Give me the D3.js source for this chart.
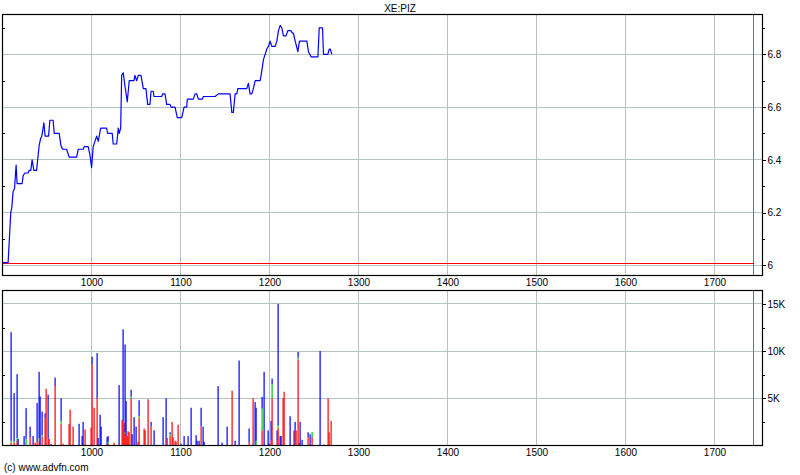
<!DOCTYPE html>
<html>
<head>
<meta charset="utf-8">
<script src="https://cdn.jsdelivr.net/npm/d3@7"></script>
<style>
  html, body { margin: 0; padding: 0; background: #fff; }
  svg { display: block; }
  text { font-family: "Liberation Sans", Arial, sans-serif; font-size: 10px; fill: #000; }
</style>
</head>
<body>
<svg id="chart" width="800" height="475"></svg>
<script>
// ---------------- data ----------------
const title = "XE:PIZ";
const copyright = "(c) www.advfn.com";
const xTicks = [1000, 1100, 1200, 1300, 1400, 1500, 1600, 1700];
const priceTicks = [6, 6.2, 6.4, 6.6, 6.8];
const priceTickLabels = ["6", "6.2", "6.4", "6.6", "6.8"];
const priceMinorTicks = [6.1, 6.3, 6.5, 6.7, 6.9];
const volTicks = [5000, 10000, 15000];
const volTickLabels = ["5K", "10K", "15K"];
const volMinorTicks = [2500, 7500, 12500];
const refPrice = 6.006;
const endMarker = 1744;

const priceX = [900, 906.3, 909.3, 910.5, 911.9, 913.5, 915.3, 916.4, 922.1, 923.2, 925.1, 928.8, 929.9, 931.8, 933.3, 935.2, 938.3,
  941.2, 942.8, 944.2, 946.5, 947.9, 951.8, 953.2, 956.9, 958.1, 963.7, 965.6, 967.5, 972, 974.9, 983.3, 985.1, 990.7,
  991.8, 996.3, 998.2, 1000.1, 1001.9, 1005.8, 1007.6, 1010.3, 1017, 1018.1, 1023.3, 1024.4, 1028.3, 1030.1, 1031.2,
  1032.8, 1033.9, 1035.7, 1037.6, 1040.2, 1042.4, 1047.7, 1048.8, 1050.8, 1052.6, 1055.6, 1058.2, 1061.2, 1063.1,
  1065.7, 1066.9, 1069.4, 1070.2, 1078.9, 1080, 1082.6, 1084.5, 1088.2, 1089.4, 1093.9, 1096.4, 1101.4, 1104, 1107,
  1107.7, 1114.4, 1116.4, 1118.3, 1120.1, 1124.6, 1125.7, 1138.9, 1142.6, 1155.7, 1157.7, 1159.4, 1161.4, 1163.3,
  1164.4, 1174.5, 1176.3, 1178.2, 1180.1, 1181.9, 1183.9, 1189.5, 1190.6, 1193.2, 1195.1, 1197, 1198.8, 1200.7,
  1202.6, 1206.4, 1208.3, 1210.1, 1212, 1213.9, 1215.7, 1218.7, 1220.6, 1224, 1225.8, 1226.9, 1228.9, 1231.9, 1233.7,
  1242, 1243.8, 1246.9, 1254.4, 1255.9, 1259.6, 1260.7, 1265.6, 1267.1, 1268.2, 1270.1];
const priceY = [6.01, 6.01, 6.20, 6.22, 6.28, 6.29, 6.38, 6.31, 6.31, 6.34, 6.35, 6.35, 6.36, 6.36, 6.40, 6.36, 6.36,
  6.455, 6.48, 6.49, 6.54, 6.49, 6.49, 6.55, 6.55, 6.50, 6.50, 6.455, 6.44, 6.44, 6.41, 6.41, 6.44, 6.44,
  6.45, 6.45, 6.42, 6.37, 6.45, 6.49, 6.47, 6.52, 6.52, 6.50, 6.50, 6.46, 6.46, 6.52, 6.50,
  6.52, 6.72, 6.73, 6.68, 6.62, 6.70, 6.70, 6.72, 6.70, 6.72, 6.72, 6.67, 6.67, 6.61,
  6.61, 6.66, 6.66, 6.64, 6.64, 6.65, 6.65, 6.61, 6.61, 6.60, 6.60, 6.56, 6.56, 6.60, 6.60,
  6.63, 6.63, 6.65, 6.65, 6.63, 6.63, 6.64, 6.64, 6.65, 6.65, 6.58, 6.58, 6.65, 6.65,
  6.67, 6.67, 6.69, 6.65, 6.65, 6.67, 6.70, 6.70, 6.72, 6.78, 6.80, 6.82, 6.83, 6.85,
  6.83, 6.83, 6.85, 6.89, 6.91, 6.90, 6.87, 6.87, 6.89, 6.89, 6.88, 6.88, 6.85, 6.81, 6.85,
  6.85, 6.81, 6.79, 6.79, 6.90, 6.90, 6.80, 6.80, 6.82, 6.82, 6.80];

const volX = [910, 913, 916.5, 917.6, 924.3, 926.6, 931.1, 934.5, 936.7, 939, 941.2, 942.3, 944.6, 948, 949.1, 951.3,
  952.5, 954.7, 959.2, 966, 968.2, 975, 976.1, 979.5, 986.2, 989.6, 990.7, 993, 999.7, 1000.8, 1003.1, 1006.5,
  1007.6, 1009.8, 1011, 1017.7, 1018.8, 1025.6, 1031.2, 1034.6, 1035.7, 1036.8, 1037.6, 1038.7, 1039.8, 1040.9,
  1042.1, 1044.3, 1045.5, 1047.7, 1049.9, 1052.2, 1053.4, 1059, 1060.1, 1063.5, 1066.9, 1070.3, 1080.4, 1083.8,
  1084.9, 1088.3, 1090.5, 1091.6, 1093.8, 1095, 1097.2, 1100.6, 1103.9, 1108.4, 1111.8, 1117.5, 1119, 1121,
  1123.4, 1125.7, 1126.8, 1142.6, 1147.1, 1152.7, 1158.3, 1161.7, 1165.5, 1177.4, 1182, 1184.2, 1185.3, 1192.1,
  1194.3, 1198.8, 1200, 1202.2, 1203.3, 1208.9, 1210.1, 1212.3, 1213.5, 1215.7, 1216.8, 1222.5, 1227, 1229.2,
  1230.3, 1232.5, 1233.7, 1234.8, 1237.1, 1243.8, 1245, 1248.3, 1257.3, 1261.8, 1265.2, 1267.4, 1268.6];
const volRed = [300, 300, 500, 0, 0, 0, 900, 0, 300, 400, 500, 0, 900, 2900, 6000, 700,
  700, 0, 6300, 2300, 200, 2300, 3800, 2000, 0, 0, 0, 1700, 1900, 8600, 4000, 5000,
  0, 0, 0, 0, 200, 300, 0, 2700, 2600, 2400, 1200, 1000, 1000, 1500,
  1400, 5000, 0, 0, 0, 400, 2900, 1800, 1600, 4900, 2000, 0, 0, 0,
  800, 1000, 2500, 900, 500, 400, 2200, 0, 0, 0, 0, 0, 0, 0,
  2000, 0, 0, 0, 0, 0, 5800, 0, 0, 300, 5000, 0, 0, 1600,
  0, 0, 0, 500, 5000, 500, 1900, 0, 0, 5000, 5700, 0, 0, 1600,
  1600, 9100, 300, 0, 0, 900, 0, 900, 0, 100, 5000, 1400, 2600];
const volGreen = [200, 100, 300, 0, 0, 700, 0, 0, 0, 0, 300, 0, 200, 0, 0, 0,
  0, 0, 0, 300, 0, 0, 0, 0, 0, 0, 0, 0, 0, 0, 0, 0,
  0, 0, 0, 0, 200, 0, 0, 0, 0, 0, 200, 0, 0, 0,
  0, 200, 0, 0, 0, 0, 200, 0, 0, 0, 0, 0, 0, 0,
  0, 200, 0, 0, 0, 0, 0, 0, 0, 0, 0, 0, 0, 0,
  0, 0, 0, 0, 0, 0, 0, 0, 0, 0, 0, 0, 500, 2300,
  0, 0, 0, 0, 1500, 0, 200, 0, 0, 0, 0, 0, 0, 0,
  0, 200, 0, 0, 0, 0, 0, 550, 0, 0, 0, 0, 0];
const volBlue = [11500, 5150, 6760, 700, 1000, 3260, 1100, 1000, 0, 4100, 7000, 5200, 2500, 500, 0, 4700,
  0, 150, 900, 2400, 0, 0, 0, 0, 2300, 1000, 2500, 0, 0, 800, 0, 4800,
  800, 3250, 2000, 900, 600, 0, 6400, 0, 9700, 0, 9300, 3700, 0, 0,
  0, 700, 1200, 3000, 2000, 0, 1700, 0, 0, 0, 500, 1600, 3000, 5000,
  0, 200, 0, 0, 0, 0, 0, 200, 1000, 1000, 4000, 1100, 500, 500,
  2000, 2000, 400, 6300, 300, 2000, 0, 500, 9000, 1500, 0, 4600, 3500, 1250,
  7800, 1600, 200, 2100, 600, 1100, 12900, 1000, 1000, 0, 0, 3100, 1600, 900,
  0, 600, 0, 2500, 600, 500, 1200, 0, 10000, 0, 0, 0, 0];

// ---------------- layout ----------------
const svg = d3.select("#chart");
const L = 2.5, R = 762.5;
const pTop = 14.5, pBot = 275.5;
const vTop = 290.5, vBot = 445.5;

const x = d3.scaleLinear().domain([900, 1754]).range([L, R]);
const yP = d3.scaleLinear().domain([5.9613, 6.951]).range([pBot, pTop]);
const yV = d3.scaleLinear().domain([0, 16420]).range([vBot, vTop]);

const gridColor = "#b4c2c2";
const crisp = v => Math.round(v - 0.5) + 0.5;

function panelGrid(y, top, bot, yTicks) {
  const g = svg.append("g");
  g.selectAll("line.vg").data(xTicks).join("line")
    .attr("x1", d => crisp(x(d))).attr("x2", d => crisp(x(d)))
    .attr("y1", top).attr("y2", bot)
    .attr("stroke", gridColor).attr("stroke-width", 1);
  g.selectAll("line.hg").data(yTicks).join("line")
    .attr("x1", L).attr("x2", R)
    .attr("y1", d => crisp(y(d))).attr("y2", d => crisp(y(d)))
    .attr("stroke", gridColor).attr("stroke-width", 1);
  // end-of-session marker
  g.append("line")
    .attr("x1", crisp(x(endMarker))).attr("x2", crisp(x(endMarker)))
    .attr("y1", top).attr("y2", bot)
    .attr("stroke", "#6a7676").attr("stroke-width", 1);
}

panelGrid(yP, pTop, pBot, priceTicks);
panelGrid(yV, vTop, vBot, volTicks);

// reference line
svg.append("line")
  .attr("x1", L).attr("x2", crisp(x(endMarker)))
  .attr("y1", crisp(yP(refPrice))).attr("y2", crisp(yP(refPrice)))
  .attr("stroke", "#ff0000").attr("stroke-width", 1)
  .attr("shape-rendering", "crispEdges");

// price line
const pts = priceX.map((d, i) => [d, priceY[i]]);
svg.append("path")
  .datum(pts)
  .attr("fill", "none")
  .attr("stroke", "#0000ff")
  .attr("stroke-width", 1.2)
  .attr("stroke-linejoin", "round")
  .attr("d", d3.line().x(d => x(d[0])).y(d => yP(d[1])));

// volume bars (stacked red / green / blue)
const bars = volX.map((d, i) => ({ x: d, r: volRed[i], g: volGreen[i], b: volBlue[i] }));
const vg = svg.append("g");
bars.forEach(d => {
  const bx = Math.round(x(d.x)) - 0.5;
  const segs = [[0, d.r, "#ff0000"], [d.r, d.r + d.g, "#00c800"], [d.r + d.g, d.r + d.g + d.b, "#0000ff"]];
  segs.forEach(s => {
    if (s[1] > s[0]) {
      vg.append("rect")
        .attr("x", bx).attr("width", 1.2)
        .attr("y", yV(s[1])).attr("height", yV(s[0]) - yV(s[1]))
        .attr("fill", s[2]);
    }
  });
});

// frames
[[pTop, pBot], [vTop, vBot]].forEach(([t, b]) => {
  svg.append("rect")
    .attr("x", L).attr("y", t).attr("width", R - L).attr("height", b - t)
    .attr("fill", "none").attr("stroke", "#000").attr("stroke-width", 1.2);
});

// right axes
const aP = svg.append("g").attr("transform", `translate(${R},0)`)
  .call(d3.axisRight(yP).tickValues(priceTicks).tickSize(3).tickPadding(2)
    .tickFormat((d, i) => priceTickLabels[i]));
const aPm = svg.append("g").attr("transform", `translate(${R},0)`)
  .call(d3.axisRight(yP).tickValues(priceMinorTicks).tickSize(2).tickFormat(""));
const aV = svg.append("g").attr("transform", `translate(${R},0)`)
  .call(d3.axisRight(yV).tickValues(volTicks).tickSize(3).tickPadding(2)
    .tickFormat((d, i) => volTickLabels[i]));
const aVm = svg.append("g").attr("transform", `translate(${R},0)`)
  .call(d3.axisRight(yV).tickValues(volMinorTicks).tickSize(2).tickFormat(""));

// left inner minor ticks
const lP = svg.append("g").attr("transform", `translate(${L},0)`)
  .call(d3.axisRight(yP).tickValues(priceMinorTicks).tickSize(2).tickFormat(""));
const lV = svg.append("g").attr("transform", `translate(${L},0)`)
  .call(d3.axisRight(yV).tickValues(volMinorTicks).tickSize(2).tickFormat(""));

// bottom axes
const bP = svg.append("g").attr("transform", `translate(0,${pBot})`)
  .call(d3.axisBottom(x).tickValues(xTicks).tickSize(0).tickPadding(3).tickFormat(d3.format("d")));
const bV = svg.append("g").attr("transform", `translate(0,${vBot})`)
  .call(d3.axisBottom(x).tickValues(xTicks).tickSize(0).tickPadding(3).tickFormat(d3.format("d")));

[aP, aPm, aV, aVm, lP, lV, bP, bV].forEach(a => {
  a.select(".domain").remove();
  a.selectAll("line").attr("stroke", "#000").attr("shape-rendering", "crispEdges");
  a.selectAll("text").attr("font-size", 10).attr("font-family", "Liberation Sans, Arial, sans-serif").attr("fill", "#000");
});

// title & copyright
svg.append("text").attr("x", 400).attr("y", 12).attr("text-anchor", "middle").text(title);
svg.append("text").attr("x", 4).attr("y", 471).text(copyright);
</script>
</body>
</html>
